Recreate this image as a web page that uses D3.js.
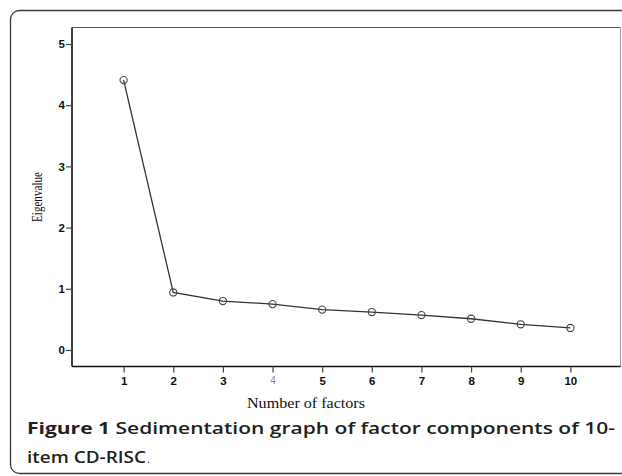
<!DOCTYPE html>
<html><head><meta charset="utf-8">
<script src="https://cdn.jsdelivr.net/npm/d3@7"></script>
<style>
html,body{margin:0;padding:0;background:#fff;}
svg{display:block;}
</style></head>
<body>
<svg id="chart" width="622" height="476"></svg>
<script>
const factors = [1,2,3,4,5,6,7,8,9,10];
const eigenvalues = [4.41,0.94,0.80,0.75,0.66,0.62,0.57,0.51,0.42,0.36];
const yTicks = [0,1,2,3,4,5];
const xLabel = "Number of factors";
const yLabel = "Eigenvalue";
const captionBold = "Figure 1";
const captionLine1 = " Sedimentation graph of factor components of 10-";
const captionLine2 = "item CD-RISC";

const svg = d3.select("#chart");

// outer rounded frame
svg.append("rect").attr("x",10.5).attr("y",10.5).attr("width",640).attr("height",463)
  .attr("rx",9).attr("fill","none").attr("stroke","#3a3a3a").attr("stroke-width",1.3);

const L=72, R=620.5, T=27.5, B=366.5;
const x = d3.scaleLinear().domain([-0.04,11.01]).range([L,R]);
const y = d3.scaleLinear().domain([-0.27,5.27]).range([B,T]);

// frame top & right
svg.append("line").attr("x1",L).attr("x2",R).attr("y1",T).attr("y2",T).attr("stroke","#555").attr("stroke-width",1);
svg.append("line").attr("x1",R).attr("x2",R).attr("y1",T).attr("y2",B).attr("stroke","#9a9a9a").attr("stroke-width",1);

// axes
const gx = svg.append("g").attr("transform",`translate(0,${B})`)
  .call(d3.axisBottom(x).tickValues(factors).tickFormat(d3.format("d")).tickSize(6).tickPadding(4).tickSizeOuter(0));
const gy = svg.append("g").attr("transform",`translate(${L},0)`)
  .call(d3.axisLeft(y).tickValues(yTicks).tickFormat(d3.format("d")).tickSize(6).tickPadding(1).tickSizeOuter(0));
[gx,gy].forEach(g=>{
  g.select(".domain").attr("stroke","#111").attr("stroke-width",1.6);
  g.selectAll(".tick line").attr("stroke","#444").attr("stroke-width",1.2);
  g.selectAll(".tick text").attr("font-family","Liberation Sans, Arial, sans-serif")
   .attr("font-size",11.5).attr("font-weight","bold").attr("fill","#111");
});
gx.select(".domain").attr("d",`M${L},0H${R}`);
gy.select(".domain").attr("d",`M0,${B}V${T}`);
gx.selectAll(".tick text").filter(d=>d===4).attr("font-weight","normal").attr("fill","#888").attr("font-size",10);

// line and markers
const line = d3.line().x((d,i)=>x(factors[i])).y(d=>y(d));
svg.append("path").datum(eigenvalues).attr("d",line).attr("fill","none")
  .attr("stroke","#333").attr("stroke-width",1.3);
svg.selectAll("circle.pt").data(eigenvalues).join("circle").attr("class","pt")
  .attr("cx",(d,i)=>x(factors[i])).attr("cy",d=>y(d)).attr("r",3.6)
  .attr("fill","none").attr("stroke","#444").attr("stroke-width",1.1);

// axis titles
svg.append("text").attr("x",306).attr("y",408).attr("text-anchor","middle")
  .attr("font-family","Liberation Serif, Times New Roman, serif").attr("font-size",15)
  .attr("textLength",118).attr("lengthAdjust","spacingAndGlyphs").attr("fill","#111").text(xLabel);
svg.append("text").attr("transform","translate(42,197) rotate(-90)").attr("text-anchor","middle")
  .attr("font-family","Liberation Serif, Times New Roman, serif").attr("font-size",14.5)
  .attr("textLength",50).attr("lengthAdjust","spacingAndGlyphs").attr("fill","#111").text(yLabel);

// caption
const cap = svg.append("text").attr("x",27).attr("y",434)
  .attr("font-family","Open Sans, sans-serif").attr("font-size",16).attr("fill","#231f20")
  .attr("font-weight",600).attr("textLength",588).attr("lengthAdjust","spacingAndGlyphs");
cap.append("tspan").attr("font-weight",700).text(captionBold);
cap.append("tspan").text(captionLine1);
const cap2 = svg.append("text").attr("x",27).attr("y",463)
  .attr("font-family","Open Sans, sans-serif").attr("font-size",16).attr("fill","#231f20").attr("font-weight",600)
  .attr("textLength",119).attr("lengthAdjust","spacingAndGlyphs").text(captionLine2);
svg.append("text").attr("x",147).attr("y",463).attr("font-family","Open Sans, sans-serif")
  .attr("font-size",11).attr("fill","#231f20").text(".");
</script>
</body></html>
